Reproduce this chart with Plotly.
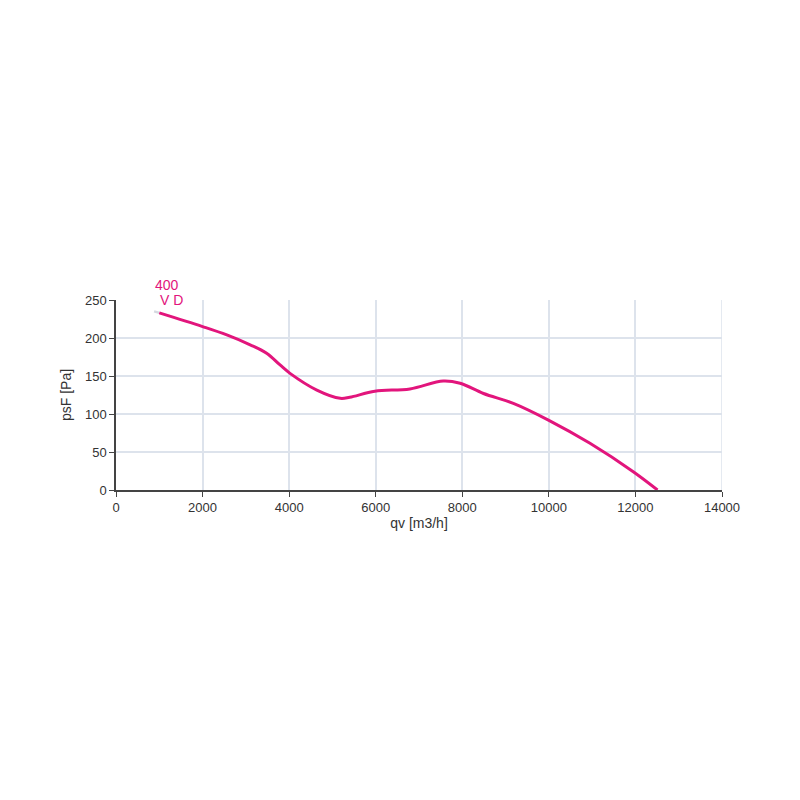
import plotly.graph_objects as go

qv = [1000, 2000, 2560, 3100, 3480, 3790, 4020, 4640, 5180, 5400, 5980, 6790, 7560, 7950, 8490, 9180, 9990, 10950, 11950, 12510]
psf = [233, 215, 204, 191, 180, 164.5, 153.5, 131.5, 120.6, 122, 130, 133, 143.4, 140.4, 127, 114, 92, 61.4, 24, 0]
lead_qv = [880, 1000]
lead_psf = [235, 233]
label_lines = ["400", "V D"]

x_ticks = [0, 2000, 4000, 6000, 8000, 10000, 12000, 14000]
y_ticks = [0, 50, 100, 150, 200, 250]

COLOR = "#e2157c"
GRID = "#dde3ec"
AXIS = "#444444"
FONT = "Liberation Sans, Arial, sans-serif"

fig = go.Figure()
fig.add_trace(go.Scatter(x=lead_qv, y=lead_psf, mode="lines",
                         line=dict(color="#d5d9e0", width=2.5), hoverinfo="skip"))
fig.add_trace(go.Scatter(x=qv, y=psf, mode="lines", line_shape="spline",
                         line=dict(color=COLOR, width=3), cliponaxis=False))

fig.add_annotation(x=1180, y=1.131, xref="x", yref="paper", text=label_lines[0], showarrow=False,
                   font=dict(color=COLOR, size=14, family=FONT))
fig.add_annotation(x=1290, y=1.052, xref="x", yref="paper", text=label_lines[1], showarrow=False,
                   font=dict(color=COLOR, size=14, family=FONT))

fig.update_layout(
    width=800, height=800,
    margin=dict(l=108, r=86, t=292, b=318),
    paper_bgcolor="white", plot_bgcolor="white",
    showlegend=False,
    font=dict(family=FONT, color="#333333", size=13),
)
fig.update_xaxes(range=[0, 14000], tickvals=x_ticks, ticktext=[str(v) for v in x_ticks],
                 showgrid=True, gridcolor=GRID, gridwidth=1.5,
                 showline=True, linecolor=AXIS, linewidth=1.5, mirror=False,
                 ticks="outside", ticklen=5, tickcolor=AXIS, zeroline=False,
                 title=dict(text="qv [m3/h]", standoff=4, font=dict(size=14)))
fig.update_yaxes(range=[0, 250], tickvals=y_ticks, ticktext=[str(v) for v in y_ticks],
                 showgrid=True, gridcolor=GRID, gridwidth=1.5,
                 showline=True, linecolor=AXIS, linewidth=1.5,
                 ticks="outside", ticklen=5, tickcolor=AXIS, zeroline=False,
                 title=dict(text="psF [Pa]", standoff=10, font=dict(size=14)))
fig.add_shape(type="line", xref="x", yref="y", x0=14000, x1=14000, y0=0, y1=250,
              line=dict(color=GRID, width=1.5), layer="below")

fig.write_html("out.html")
